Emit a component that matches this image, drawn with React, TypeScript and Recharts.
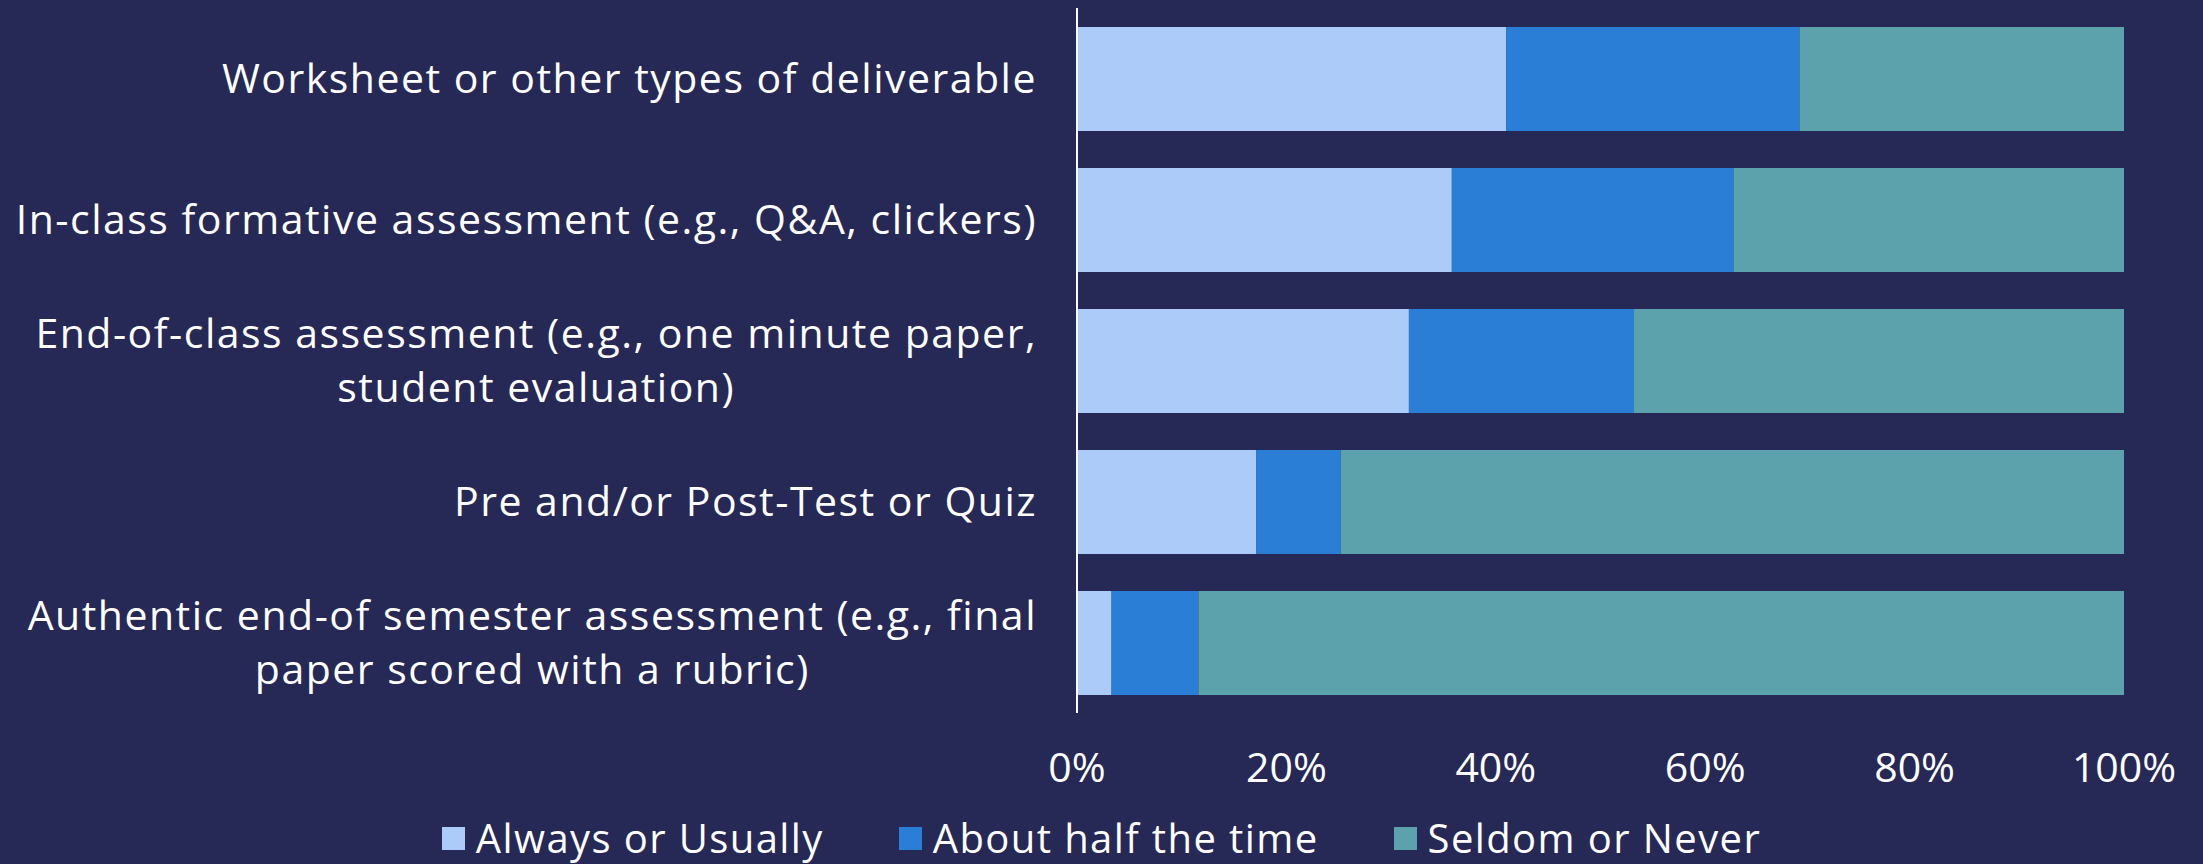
import React from 'react';
import { BarChart, Bar, XAxis, YAxis, Legend } from 'recharts';

const categories = [
    'Worksheet or other types of deliverable',
    'In-class formative assessment (e.g., Q&A, clickers)',
    'End-of-class assessment (e.g., one minute paper,\nstudent evaluation)',
    'Pre and/or Post-Test or Quiz',
    'Authentic end-of semester assessment (e.g., final\npaper scored with a rubric)',
];
const alwaysOrUsually = [41.0, 35.8, 31.7, 17.1, 3.3];
const aboutHalfTheTime = [28.0, 26.9, 21.5, 8.1, 8.3];
const seldomOrNever = [31.0, 37.3, 46.8, 74.8, 88.4];
const xTicks = [0, 20, 40, 60, 80, 100];

const seriesNames = ['Always or Usually', 'About half the time', 'Seldom or Never'];
const seriesColors = ['#ADCBF8', '#2B7ED6', '#5BA2AD'];

const BG = '#262855';
const FONT = '"Open Sans"';
const LABEL_SIZE = 41;
const LABEL_SPACING = 1.5;
const TICK_SIZE = 41;

const data = categories.map((name, i) => ({
    name,
    always: alwaysOrUsually[i],
    half: aboutHalfTheTime[i],
    seldom: seldomOrNever[i],
}));

let ctx: CanvasRenderingContext2D | null = null;
const measure = (s: string, size: number) => {
    if (!ctx) ctx = document.createElement('canvas').getContext('2d');
    if (!ctx) return s.length * (size * 0.5 + LABEL_SPACING);
    ctx.font = `${size}px ${FONT}`;
    return ctx.measureText(s).width + s.length * LABEL_SPACING;
};

const CategoryTick = (props: any) => {
    const { x, y, payload } = props;
    const lines = String(payload.value).split('\n');
    const maxW = Math.max(...lines.map(l => measure(l, LABEL_SIZE)));
    const cx = x - 40 - maxW / 2;
    const lh = 54;
    const startY = y - ((lines.length - 1) * lh) / 2 + LABEL_SIZE * 0.35;
    return (
        <text textAnchor="middle" fill="#ffffff" fontSize={LABEL_SIZE} fontFamily={FONT} letterSpacing={LABEL_SPACING}>
            {lines.map((l, i) => (
                <tspan key={i} x={cx} y={startY + i * lh}>{l}</tspan>
            ))}
        </text>
    );
};

const PercentTick = (props: any) => {
    const { x, y, payload } = props;
    return (
        <text x={x} y={y + 55 + TICK_SIZE * 0.35} textAnchor="middle" fill="#ffffff" fontSize={TICK_SIZE} fontFamily={FONT}>
            {`${payload.value}%`}
        </text>
    );
};

const LegendContent = () => (
    <div style={{ display: 'flex', justifyContent: 'center', alignItems: 'center', height: 81, paddingTop: 29, boxSizing: 'border-box' }}>
        {seriesNames.map((n, i) => (
            <div key={n} style={{ display: 'flex', alignItems: 'center', marginRight: i < seriesNames.length - 1 ? 75 : 0 }}>
                <div style={{ width: 23, height: 23, background: seriesColors[i], marginRight: 11 }} />
                <span style={{ color: '#ffffff', fontSize: 40, fontFamily: FONT, lineHeight: 1, letterSpacing: 1.4 }}>{n}</span>
            </div>
        ))}
    </div>
);

export default function App() {
    return (
        <div style={{ position: 'absolute', left: 0, top: 0, width: 2203, height: 864, background: BG, overflow: 'hidden' }}>
            <BarChart
                width={2203}
                height={864}
                data={data}
                layout="vertical"
                margin={{ top: 8, right: 79, bottom: 0, left: 0 }}
            >
                <XAxis
                    type="number"
                    domain={[0, 100]}
                    ticks={xTicks}
                    height={70}
                    axisLine={false}
                    tickLine={false}
                    tickSize={0}
                    tickMargin={0}
                    tick={<PercentTick />}
                    interval={0}
                />
                <YAxis
                    type="category"
                    dataKey="name"
                    width={1077}
                    axisLine={{ stroke: '#ffffff', strokeWidth: 2 }}
                    tickLine={false}
                    tickSize={0}
                    tickMargin={0}
                    tick={<CategoryTick />}
                    interval={0}
                />
                <Legend
                    verticalAlign="bottom"
                    content={<LegendContent />}
                    wrapperStyle={{ left: 0, width: 2203, height: 81, bottom: 0 }}
                />
                <Bar dataKey="always" name={seriesNames[0]} stackId="a" fill={seriesColors[0]} barSize={104} isAnimationActive={false} />
                <Bar dataKey="half" name={seriesNames[1]} stackId="a" fill={seriesColors[1]} barSize={104} isAnimationActive={false} />
                <Bar dataKey="seldom" name={seriesNames[2]} stackId="a" fill={seriesColors[2]} barSize={104} isAnimationActive={false} />
            </BarChart>
        </div>
    );
}
